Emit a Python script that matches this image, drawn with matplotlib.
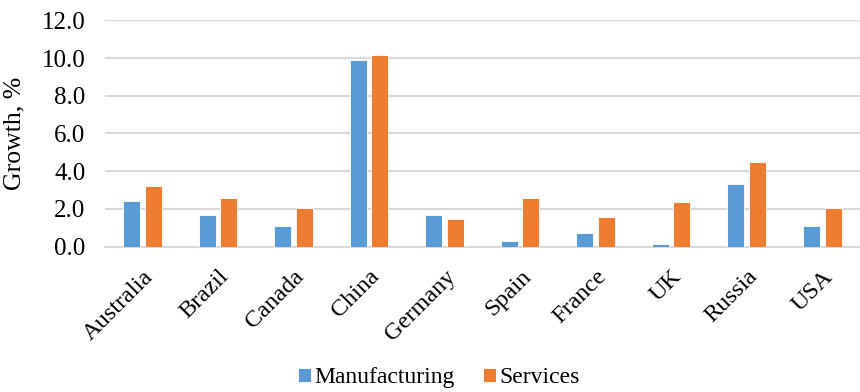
import numpy as np
import matplotlib.pyplot as plt
from matplotlib.font_manager import FontProperties

countries = ["Australia", "Brazil", "Canada", "China", "Germany",
             "Spain", "France", "UK", "Russia", "USA"]
manufacturing = [2.4, 1.7, 1.1, 9.9, 1.65, 0.27, 0.73, 0.16, 3.3, 1.08]
services = [3.2, 2.6, 2.04, 10.14, 1.47, 2.58, 1.56, 2.34, 4.5, 2.05]
yticks = [0, 2, 4, 6, 8, 10, 12]

serif = ['Liberation Serif', 'DejaVu Serif']
plt.rcParams['font.family'] = serif

fig = plt.figure(figsize=(8.6, 3.92), dpi=100)
ax = fig.add_axes([0.122, 0.371, 0.878, 0.577])

x = np.arange(len(countries))
w = 0.225
ax.bar(x - w / 2 - 0.03, manufacturing, w, color="#5B9BD5", edgecolor="white",
       linewidth=0.6, label="Manufacturing", zorder=3)
ax.bar(x + w / 2 + 0.03, services, w, color="#ED7D31", edgecolor="white",
       linewidth=0.6, label="Services", zorder=3)

ax.set_xlim(-0.5, len(countries) - 0.5)
ax.set_ylim(0, 12)
ax.set_yticks(yticks)
ax.set_yticklabels([f"{v:.1f}" for v in yticks], fontsize=18)
ax.set_xticks(x)
ax.set_xticklabels(countries, rotation=45, ha="right", rotation_mode="anchor", fontsize=17.5)
ax.tick_params(axis="both", length=0)
ax.tick_params(axis="x", pad=14)
ax.tick_params(axis="y", pad=14)
ax.grid(axis="y", color="#D9D9D9", linewidth=1.5, zorder=0)
for s in ["top", "right", "left"]:
    ax.spines[s].set_visible(False)
ax.spines["bottom"].set_color("#D9D9D9")
ax.spines["bottom"].set_linewidth(1.5)
ax.set_ylabel("Growth, %", fontsize=18.5, labelpad=12)

leg_font = FontProperties(family="Liberation Serif", size=17)
fig.legend(loc="lower center", bbox_to_anchor=(0.51, -0.045), ncol=2, frameon=False,
           prop=leg_font, handlelength=0.55, handleheight=0.55,
           handletextpad=0.15, columnspacing=1.2)

fig.savefig("out.png", dpi=100)
